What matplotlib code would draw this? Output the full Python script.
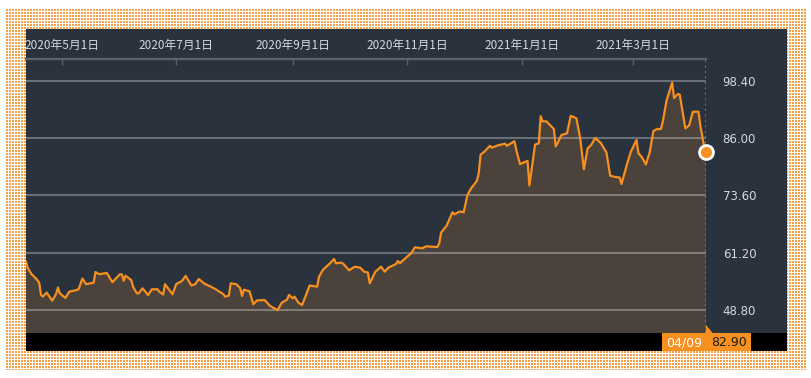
import numpy as np
import pandas as pd
import matplotlib
matplotlib.use("Agg")
import matplotlib.pyplot as plt
from matplotlib.patches import Rectangle, Polygon

# days since start date
start = pd.Timestamp("2020-04-12")
day_offsets = [0, 1, 3, 4, 6, 7, 8, 9, 11, 14, 16, 17, 18, 21, 23, 26, 28, 30, 32, 36,
               37, 39, 43, 46, 50, 51, 52, 53, 56, 57, 59, 60, 62, 65, 67, 70, 71, 73, 74, 78,
               80, 83, 85, 88, 90, 92, 95, 98, 99, 101, 103, 105, 106, 108, 109, 112, 114, 115, 116, 119,
               121, 123, 127, 130, 134, 136, 139, 140, 142, 143, 145, 147, 151, 155, 156, 158, 162, 164, 165, 168,
               169, 172, 175, 178, 180, 182, 183, 186, 189, 191, 193, 197, 198, 199, 203, 205, 207, 211, 213, 219,
               220, 221, 224, 226, 227, 228, 231, 233, 235, 237, 240, 241, 242, 244, 247, 248, 251, 255, 256, 260,
               261, 263, 265, 267, 268, 271, 273, 274, 275, 277, 281, 282, 283, 285, 288, 290, 291, 293, 295, 297,
               299, 301, 303, 306, 309, 311, 313, 316, 317, 320, 322, 325, 326, 328, 330, 332, 334, 336, 338, 339,
               341, 344, 345, 347, 348, 351, 353, 355, 358, 359, 361, 362]
prices = [59.25, 57.82, 56.53, 56.16, 55.29, 54.71, 52.05, 51.68, 52.59, 50.81, 52.26, 53.67, 52.41, 51.40, 52.76, 53.02, 53.28, 55.62, 54.38, 54.71,
          57.02, 56.55, 56.81, 54.82, 56.53, 56.53, 55.14, 56.22, 55.29, 53.84, 52.41, 52.41, 53.50, 52.05, 53.28, 53.28, 52.76, 52.15, 54.38, 52.20,
          54.43, 55.08, 56.18, 54.10, 54.36, 55.51, 54.49, 53.93, 53.71, 53.28, 52.74, 52.26, 51.68, 51.94, 54.58, 54.36, 53.56, 51.83, 53.19, 52.85,
          50.06, 50.86, 50.96, 49.67, 48.76, 50.31, 51.07, 52.05, 51.33, 51.68, 50.38, 49.88, 54.10, 53.84, 56.01, 57.46, 58.97, 59.84, 58.91, 59.04,
          58.75, 57.39, 58.17, 57.95, 57.09, 56.92, 54.58, 57.09, 58.17, 57.09, 58.00, 58.75, 59.40, 58.91, 60.38, 61.03, 62.37, 62.15, 62.58, 62.43,
          63.23, 65.57, 67.09, 68.99, 69.94, 69.51, 70.12, 69.94, 73.69, 75.14, 76.72, 78.38, 82.41, 83.06, 84.33, 83.92, 84.40, 84.79, 84.33, 85.31,
          83.42, 80.35, 80.76, 81.04, 75.74, 84.61, 84.87, 90.74, 89.63, 89.63, 87.97, 84.18, 84.94, 86.67, 87.04, 90.82, 90.67, 90.28, 86.02, 79.27,
          83.79, 84.57, 86.02, 84.94, 82.88, 77.86, 77.65, 77.47, 76.07, 80.44, 83.06, 85.59, 82.77, 81.76, 80.29, 82.88, 87.54, 87.97, 87.97, 89.55,
          94.14, 98.03, 94.68, 95.54, 95.43, 88.12, 88.73, 91.71, 91.71, 88.68, 84.18, 82.90]

yticks = [48.80, 61.20, 73.60, 86.00, 98.40]
xtick_dates = ["2020-05-01", "2020-07-01", "2020-09-01", "2020-11-01", "2021-01-01", "2021-03-01"]
xtick_labels = ["2020年5月1日", "2020年7月1日", "2020年9月1日", "2020年11月1日", "2021年1月1日", "2021年3月1日"]

dates = start + pd.to_timedelta(day_offsets, unit="D")

orange = "#f7901e"
dark = "#29323d"
fillc = "#4a423b"
txtc = "#d3d9e0"

plt.rcParams['font.family'] = ['DejaVu Sans', 'Noto Sans CJK JP']

W, H = 812, 378
fig = plt.figure(figsize=(W / 100, H / 100), dpi=100)
fig.patch.set_facecolor("white")

# dotted orange frame, placed pixel for pixel
ph, pw = 361, 800
pat = np.ones((ph, pw, 3))
ii, jj = np.mgrid[0:ph, 0:pw]
mask = (ii % 3 != 2) & (jj % 3 != 2)
pat[mask] = matplotlib.colors.to_rgb("#f5a04a")
fig.figimage(pat, xo=6, yo=H - 370, origin="upper", zorder=-1)

# dark panel and black band
bg = fig.add_axes([0, 0, 1, 1])
bg.set_xlim(0, W)
bg.set_ylim(H, 0)
bg.axis("off")
bg.add_patch(Rectangle((26, 29), 761, 304, color=dark, lw=0))
bg.add_patch(Rectangle((26, 333), 761, 18, color="black", lw=0))

# main chart
ax = fig.add_axes([26 / W, (H - 333) / H, 680 / W, 274 / H])
ax.patch.set_visible(False)
ax.fill_between(dates, prices, 0, color=fillc, lw=0, zorder=1)
for v in yticks:
    ax.axhline(v, color="white", alpha=0.3, lw=1.5, zorder=2)
ax.plot(dates, prices, color=orange, lw=1.6, zorder=3)
ax.axvline(dates[-1], color="#c07428", ls=(0, (1, 2)), lw=1.3, zorder=3)
ax.plot(dates[-1], prices[-1], "o", ms=10, mfc=orange, mec="white", mew=2,
        clip_on=False, zorder=5)

ax.set_xlim(start, dates[-1])
ax.set_ylim(43.82, 103.12)
ax.set_xticks(pd.to_datetime(xtick_dates))
ax.set_xticklabels(xtick_labels, family=['Noto Sans CJK JP', 'DejaVu Sans'])
ax.xaxis.tick_top()
ax.tick_params(axis="x", direction="in", length=4, width=1, color="#5c636b",
               labelsize=8.5, labelcolor=txtc, pad=5)
ax.set_yticks(yticks)
ax.set_yticklabels([f"{v:.2f}" for v in yticks])
ax.yaxis.tick_right()
ax.tick_params(axis="y", length=0, pad=12, labelsize=8.5, labelcolor=txtc)
for s in ["left", "right", "bottom"]:
    ax.spines[s].set_visible(False)
ax.spines["top"].set_color("#5c636b")
ax.spines["top"].set_linewidth(1.6)

# last value box at the bottom
bg.add_patch(Rectangle((662, 333), 89, 18, color=orange, lw=0))
bg.add_patch(Polygon([(699, 333.5), (713, 333.5), (706, 325)], color=orange, lw=0))
bg.text(684, 342.5, dates[-1].strftime("%m/%d"), color="white", fontsize=9,
        ha="center", va="center")
bg.text(729, 342.5, f"{prices[-1]:.2f}", color="#1a1a1a", fontsize=9,
        ha="center", va="center")

fig.savefig("out.png", dpi=100, facecolor="white")
